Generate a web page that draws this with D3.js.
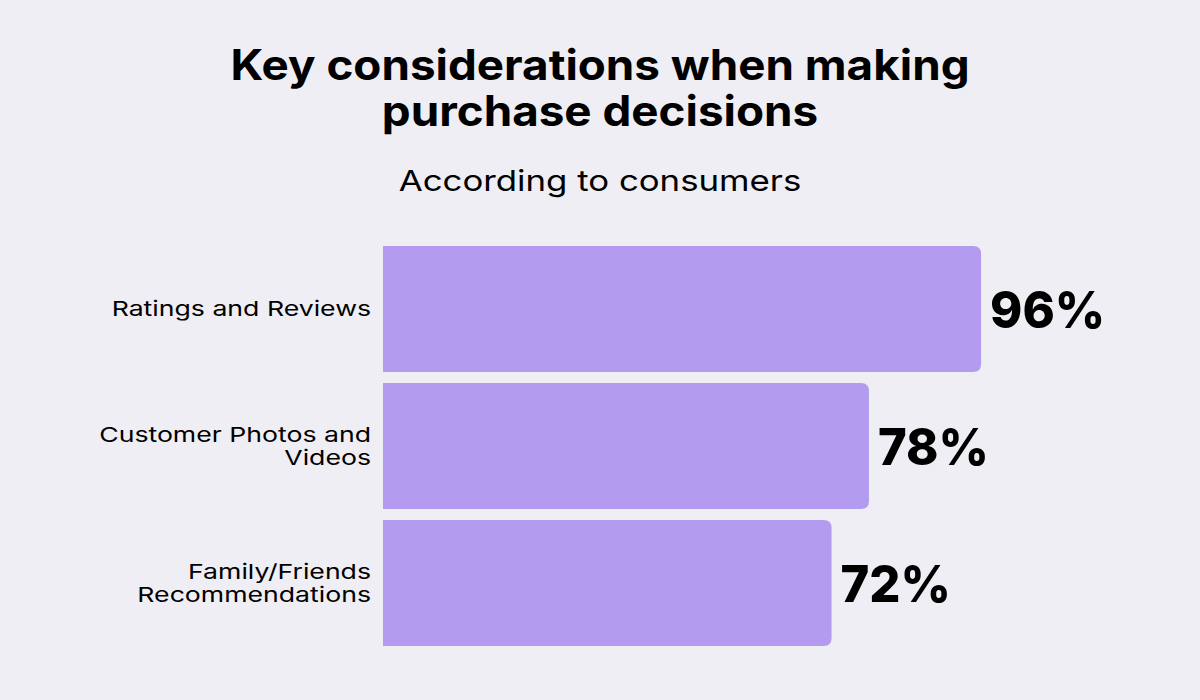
<!DOCTYPE html>
<html>
<head>
<meta charset="utf-8">
<script src="https://cdn.jsdelivr.net/npm/d3@7"></script>
<style>
	body { margin: 0; background: #efeef4; }
	svg { display: block; }
	text { font-family: "Inter", "Open Sans", sans-serif; fill: #000; }
</style>
</head>
<body>
<svg id="chart"></svg>
<script>
	// Data
	const categories = ["Ratings and Reviews", "Customer Photos and Videos", "Family/Friends Recommendations"];
	const labelLines = [["Ratings and Reviews"], ["Customer Photos and", "Videos"], ["Family/Friends", "Recommendations"]];
	const values = [96, 78, 72];

	const width = 1200;
	const height = 700;

	// Inter is narrower than the original geometric font, so stretch text horizontally
	const stretch = {title: 1.09, subtitle: 1.2, label: 1.3, value: 0.96};

	const svg = d3.select("#chart")
			.attr("width", width)
			.attr("height", height);

	svg.append("rect")
			.attr("width", width)
			.attr("height", height)
			.style("fill", "#efeef4");

	// Title
	const title = svg.append("text")
			.attr("transform", `translate(600, 0) scale(${stretch.title}, 1)`)
			.attr("text-anchor", "middle")
			.style("font-size", "42px")
			.style("font-weight", 700);
	title.append("tspan").attr("x", 0).attr("y", 80).text("Key considerations when making");
	title.append("tspan").attr("x", 0).attr("y", 126).text("purchase decisions");

	svg.append("text")
			.attr("transform", `translate(600, 191) scale(${stretch.subtitle}, 1)`)
			.attr("text-anchor", "middle")
			.style("font-size", "29px")
			.text("According to consumers");

	// Scales
	const x = d3.scaleLinear()
			.domain([0, 100])
			.range([383, 1006]);

	const y = d3.scaleBand()
			.domain(categories)
			.range([246, 646])
			.paddingInner(11 / 137)
			.paddingOuter(0);

	const r = 8;
	function barPath(v, c) {
		const x0 = x(0), x1 = x(v), y0 = y(c), y1 = y(c) + y.bandwidth();
		return `M${x0},${y0}H${x1 - r}Q${x1},${y0} ${x1},${y0 + r}V${y1 - r}Q${x1},${y1} ${x1 - r},${y1}H${x0}Z`;
	}

	const rows = categories.map((c, i) => ({c: c, v: values[i], lines: labelLines[i]}));

	svg.selectAll(".bar")
		.data(rows)
		.enter().append("path")
			.attr("class", "bar")
			.attr("d", d => barPath(d.v, d.c))
			.style("fill", "#b39cf0");

	svg.selectAll(".value")
		.data(rows)
		.enter().append("text")
			.attr("class", "value")
			.attr("transform", d => `translate(${x(d.v) + 9}, ${y(d.c) + y.bandwidth() / 2 + 19}) scale(${stretch.value}, 1)`)
			.style("font-size", "51px")
			.style("font-weight", 800)
			.text(d => d.v + "%");

	const lineH = 23;
	const labels = svg.selectAll(".label")
		.data(rows)
		.enter().append("text")
			.attr("class", "label")
			.attr("transform", d => `translate(371, ${y(d.c) + y.bandwidth() / 2}) scale(${stretch.label}, 1)`)
			.attr("text-anchor", "end")
			.style("font-size", "20.5px");

	labels.each(function(d) {
		const y0 = 7 - (d.lines.length - 1) * lineH / 2;
		d3.select(this).selectAll("tspan")
			.data(d.lines)
			.enter().append("tspan")
				.attr("x", 0)
				.attr("y", (l, i) => y0 + i * lineH)
				.text(l => l);
	});
</script>
</body>
</html>
